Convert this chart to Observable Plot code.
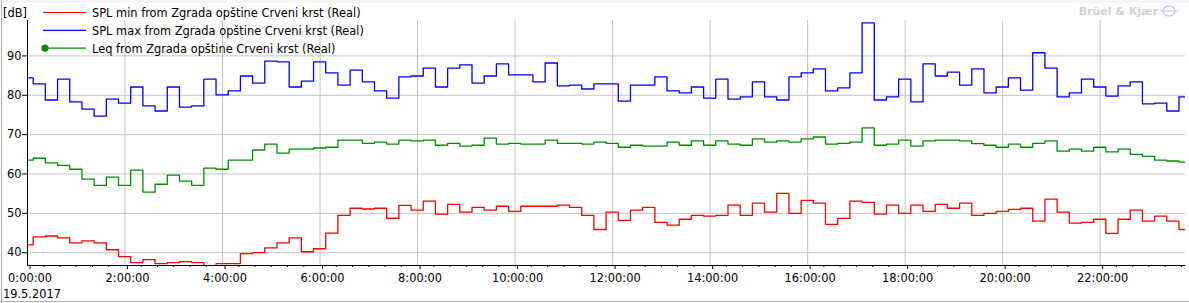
<!DOCTYPE html>
<html><head><meta charset="utf-8">
<script src="https://cdn.jsdelivr.net/npm/d3@7"></script>
<script src="https://cdn.jsdelivr.net/npm/@observablehq/plot@0.6"></script>
<style>
html,body{margin:0;padding:0;background:#fff;}
#wrap{position:relative;width:1189px;height:303px;overflow:hidden;font-family:"DejaVu Sans",sans-serif;background:#fff;}
#wrap svg{position:absolute;left:0;top:0;}
</style></head><body><div id="wrap"></div>
<script>
// ---- data (15-minute intervals, first interval partially before 0:00) ----
const seriesNames = [
  "SPL min from Zgrada opštine Crveni krst (Real)",
  "SPL max from Zgrada opštine Crveni krst (Real)",
  "Leq from Zgrada opštine Crveni krst (Real)"
];
const splMax = [84.4,82.9,78.8,84.1,78.3,76.5,74.7,79.0,78.0,82.1,77.3,76.0,82.1,77.0,77.3,84.1,80.1,81.1,84.9,83.1,88.7,88.5,82.1,83.6,88.5,85.7,82.6,86.4,83.4,81.1,79.3,84.7,
  84.9,86.9,82.1,86.9,87.7,83.1,84.9,88.0,85.2,85.2,83.4,88.2,82.4,82.6,81.6,82.9,82.9,78.5,82.6,82.6,84.7,81.1,80.6,82.1,79.3,84.1,79.0,79.6,83.4,79.6,78.8,84.7,
  85.7,86.7,81.1,81.9,85.7,98.4,78.8,79.6,84.1,78.3,88.0,84.9,85.9,82.6,86.7,80.6,82.1,84.4,81.3,90.8,86.9,79.6,80.6,84.1,82.1,79.8,82.4,83.4,77.8,78.0,76.0,79.6];
const leq = [63.5,64.0,62.8,62.2,61.2,58.7,57.1,59.2,57.1,61.0,55.4,57.4,59.7,58.2,57.1,61.5,61.2,63.5,63.5,66.1,67.6,65.3,66.3,66.3,66.6,66.8,68.6,68.6,67.8,68.1,67.6,68.6,
  68.4,68.6,67.3,67.8,67.1,67.3,69.1,67.6,67.8,67.6,67.6,68.6,67.8,67.8,67.6,68.1,67.8,66.8,67.3,67.1,67.1,68.1,67.3,68.4,67.3,68.4,67.6,67.3,68.9,68.1,68.4,68.1,
  68.9,69.4,67.6,67.8,68.1,71.7,67.3,67.6,68.6,67.1,68.4,68.6,68.6,68.4,67.7,67.3,66.8,67.6,66.8,67.8,68.4,65.8,66.3,65.8,66.8,65.6,66.3,65.0,64.5,63.5,63.3,63.0];
const splMin = [42.0,44.0,44.25,43.75,42.5,43.0,42.5,40.75,39.0,37.5,38.25,37.25,37.5,37.75,37.5,36.5,37.25,37.25,39.75,40.0,41.25,42.5,43.75,40.25,41.0,45.0,49.5,51.3,51.1,51.3,48.75,52.05,
  50.8,53.1,49.8,52.3,50.3,51.5,50.8,51.8,50.5,51.8,51.8,51.8,52.1,51.5,49.5,45.9,50.3,48.2,50.8,51.5,47.7,47.0,48.5,49.5,49.3,49.5,52.1,49.5,52.6,50.3,55.1,50.0,
  53.3,52.6,47.2,48.7,53.1,52.8,49.8,52.1,50.0,52.1,50.5,52.3,51.3,52.6,49.5,50.0,50.5,51.0,51.3,48.0,53.6,50.3,47.5,47.7,48.5,44.9,48.5,50.8,48.0,49.3,48.0,45.9];
const yTicks = [40,50,60,70,80,90];
const xTickLabels = ["0:00:00","2:00:00","4:00:00","6:00:00","8:00:00","10:00:00","12:00:00","14:00:00","16:00:00","18:00:00","20:00:00","22:00:00"];
const dateLabel = "19.5.2017";
const unitLabel = "[dB]";
const brandLabel = "Brüel & Kjær";
const colors = ["#ff0000","#0000ff","#008c00"];

// ---- time grid (minutes after 0:00) ----
const firstEdge = 7, step = 15;
const tOf = i => i === 0 ? firstEdge - step : firstEdge + step * (i - 1);
function rows(vals){
  const r = vals.map((v,i)=>({t:tOf(i), v}));
  r.push({t:tOf(vals.length), v:vals[vals.length-1]});
  return r;
}
const xMajor = xTickLabels.map((_,i)=>i*120);
const xMinor = d3.range(0, 1440, 20).filter(m => m % 120 !== 0);
const yMin = 36.75, yMax = 99;

const chart = Plot.plot({
  width:1189, height:303,
  marginLeft:27, marginRight:4, marginTop:20, marginBottom:38,
  x:{type:"linear", domain:[0,1425]},
  y:{domain:[yMin,yMax]},
  style:{fontFamily:"DejaVu Sans", fontSize:"11.4px", color:"#000", background:"transparent", overflow:"visible"},
  marks:[
    Plot.gridY(yTicks,{stroke:"#c3c3c3", strokeOpacity:1}),
    Plot.gridX(xMajor,{stroke:"#c3c3c3", strokeOpacity:1}),
    Plot.line(rows(splMin),{x:"t",y:"v",curve:"step-after",stroke:colors[0],strokeWidth:1.3,clip:true}),
    Plot.line(rows(leq),{x:"t",y:"v",curve:"step-after",stroke:colors[2],strokeWidth:1.3,clip:true}),
    Plot.line(rows(splMax),{x:"t",y:"v",curve:"step-after",stroke:colors[1],strokeWidth:1.3,clip:true}),
    Plot.axisY(yTicks,{tickSize:5, tickPadding:1, label:null, fill:"#000", stroke:"#000"}),
    Plot.axisX(xMajor,{tickSize:4, tickPadding:4, dx:2.5, label:null, fill:"#000", stroke:"#000",
      tickFormat:d=>xTickLabels[xMajor.indexOf(d)]}),
    Plot.axisX(xMinor,{tickSize:2, text:null, label:null, stroke:"#000"}),
    Plot.ruleX([0],{stroke:"#000"}),
    Plot.ruleY([yMin],{stroke:"#000"})
  ]
});
const wrap = document.getElementById("wrap");
wrap.appendChild(chart);

// ---- overlay: legend, unit, date, brand, frame ----
const ov = d3.select(wrap).append("svg").attr("width",1189).attr("height",303)
  .style("font-family","DejaVu Sans").style("font-size","11.4px");
ov.append("rect").attr("x",0).attr("y",0).attr("width",1189).attr("height",3).attr("fill","#f6f6f6");
ov.append("line").attr("x1",1.5).attr("x2",1.5).attr("y1",0).attr("y2",303).attr("stroke","#b4b4b4");
ov.append("line").attr("x1",0).attr("x2",1189).attr("y1",301.5).attr("y2",301.5).attr("stroke","#b4b4b4");
ov.append("text").attr("x",3).attr("y",13).attr("dy","0.35em").attr("fill","#000").text(unitLabel);
const legOrder = [0,1,2];
legOrder.forEach((k,j)=>{
  const y = 12.5 + j*17.8;
  ov.append("line").attr("x1",43).attr("x2",86).attr("y1",y).attr("y2",y).attr("stroke",colors[k]).attr("stroke-width",1.2);
  if (k===2) ov.append("circle").attr("cx",45).attr("cy",y).attr("r",3.6).attr("fill",colors[k]);
  ov.append("text").attr("x",92).attr("y",y+0.5).attr("dy","0.35em").attr("fill","#000").text(seriesNames[k]);
});
ov.append("text").attr("x",3).attr("y",294).attr("dy","0.35em").attr("fill","#000").text(dateLabel);
ov.append("text").attr("x",1158).attr("y",11).attr("dy","0.35em").attr("text-anchor","end")
  .attr("fill","#d2d2d2").attr("font-weight","bold").attr("font-size","11px").text(brandLabel);
const lg = ov.append("g").attr("transform","translate(1169,11)");
lg.append("ellipse").attr("rx",6).attr("ry",5).attr("fill","none").attr("stroke","#b8cdf2").attr("stroke-width",1.5);
lg.append("line").attr("x1",-9).attr("x2",9).attr("y1",0).attr("y2",0).attr("stroke","#b8cdf2").attr("stroke-width",1.2);
</script></body></html>
